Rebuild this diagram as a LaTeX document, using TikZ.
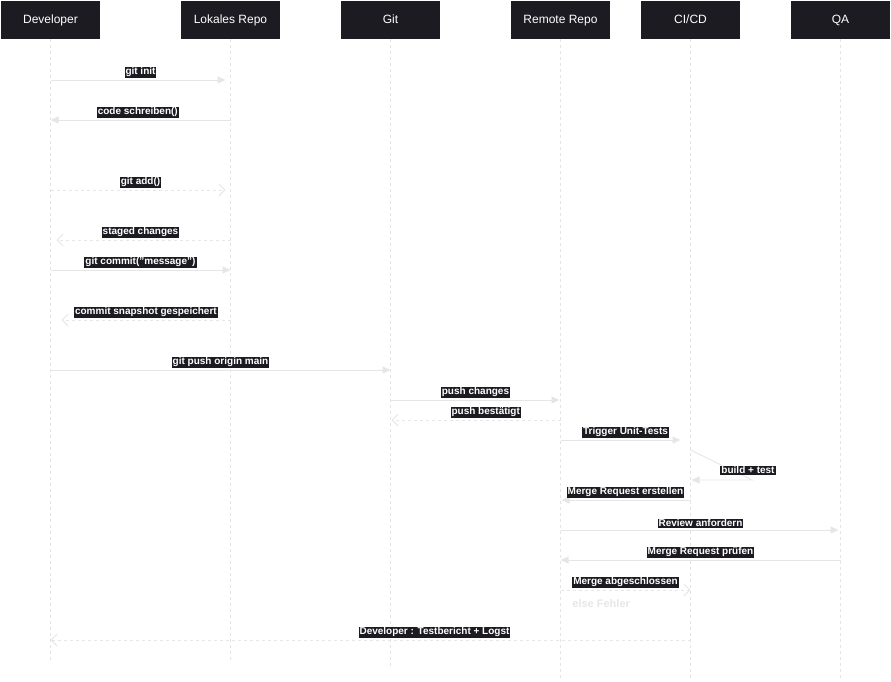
\documentclass[tikz,border=0pt]{standalone}
\usepackage{fontspec}
\setmainfont{Liberation Sans}
\usetikzlibrary{arrows.meta}
\definecolor{actorbg}{HTML}{1C1B22}
\definecolor{msgline}{HTML}{E6E6E6}
\definecolor{lifeline}{HTML}{E4E4E4}

\begin{document}
\begin{tikzpicture}[x=1pt, y=-1pt, >={Triangle[length=8pt,width=7pt]}, shorten >=3pt, line width=0.9pt,
  actor/.style={fill=actorbg, text=white, minimum width=99pt, minimum height=38pt, inner sep=0pt, text height=9pt, text depth=2.5pt, font=\fontsize{12}{14}\selectfont},
  life/.style={draw=lifeline, line width=0.7pt, dash pattern=on 3pt off 3pt, shorten >=0pt},
  call/.style={draw=msgline, ->},
  reply/.style={draw=msgline, dash pattern=on 3pt off 3pt, -{Straight Barb[length=6pt,width=12pt]}},
  lbl/.style={fill=actorbg, text=white, inner sep=1pt, above=1.5pt, font=\bfseries\fontsize{10}{11}\selectfont}]
 \useasboundingbox (0,0) rectangle (891,681);

 \node [actor] (dev) at (50.5,20) {Developer};
 \node [actor] (repo) at (230.5,20) {Lokales Repo};
 \node [actor] (git) at (390.5,20) {Git};
 \node [actor] (remote) at (560.5,20) {Remote Repo};
 \node [actor] (ci) at (690.5,20) {CI/CD};
 \node [actor] (qa) at (840.5,20) {QA};

 \coordinate (devend) at (50.5,661);
 \coordinate (repoend) at (230.5,661);
 \coordinate (gitend) at (390.5,668);
 \coordinate (remoteend) at (560.5,681);
 \coordinate (ciend) at (690.5,681);
 \coordinate (qaend) at (840.5,681);

 \path (dev) edge [life] (devend);
 \path (repo) edge [life] (repoend);
 \path (git) edge [life] (gitend);
 \path (remote) edge [life] (remoteend);
 \path (ci) edge [life] (ciend);
 \path (qa) edge [life] (qaend);

 % message rows
 \coordinate (m1) at (0,80);
 \coordinate (m2) at (0,120);
 \coordinate (m3) at (0,190);
 \coordinate (m4) at (0,240);
 \coordinate (m5) at (0,270);
 \coordinate (m6) at (0,320);
 \coordinate (m7) at (0,370);
 \coordinate (m8) at (0,400);
 \coordinate (m9) at (0,420);
 \coordinate (m10) at (0,440);
 \coordinate (m11) at (0,450);
 \coordinate (m12) at (0,480);
 \coordinate (m13) at (0,500);
 \coordinate (m14) at (0,530);
 \coordinate (m15) at (0,560);
 \coordinate (m16) at (0,590);
 \coordinate (m17) at (0,640);

 \path (dev |- m1) edge [call, shorten >=5pt] node [lbl] {git init} (repo |- m1);
 \path (repo |- m2) edge [call, shorten >=0pt] node [lbl, pos=0.515] {code schreiben()} (dev |- m2);
 \path (dev |- m3) edge [reply, shorten >=5pt] node [lbl] {git add()} (repo |- m3);
 \path (repo |- m4) edge [reply, shorten >=6pt] node [lbl] {staged changes} (dev |- m4);
 \path (dev |- m5) edge [call, shorten >=0pt] node [lbl] {git commit("message")} (repo |- m5);
 \path (repo |- m6) edge [reply, shorten >=11pt] node [lbl, pos=0.47] {commit snapshot gespeichert} (dev |- m6);
 \path (dev |- m7) edge [call, shorten >=0pt] node [lbl] {git push origin main} (git |- m7);

 \path (git |- m8) edge [call, shorten >=1pt] node [lbl] {push changes} (remote |- m8);
 \path (remote |- m9) edge [reply, shorten >=1pt] node [lbl, pos=0.44] {push bestätigt} (git |- m9);
 \path (remote |- m10) edge [call, shorten >=10pt] node [lbl] {Trigger Unit-Tests} (ci |- m10);

 \coordinate (turn) at (752,480);
 \draw [call, shorten >=1pt] (ci |- m11) -- (turn) -- (ci |- m12);
 \node [lbl, above=0pt] (build) at (748,477) {build + test};

 \path (ci |- m13) edge [call, shorten >=1pt] node [lbl] {Merge Request erstellen} (remote |- m13);
 \path (remote |- m14) edge [call, shorten >=2pt] node [lbl] {Review anfordern} (qa |- m14);
 \path (qa |- m15) edge [call, shorten >=0pt] node [lbl] {Merge Request prüfen} (remote |- m15);
 \path (remote |- m16) edge [reply, shorten >=0pt] node [lbl] {Merge abgeschlossen} (ci |- m16);
 \node [anchor=west, text=msgline, font=\bfseries\fontsize{11}{13}\selectfont, inner sep=0pt] (fehler) at (572,604) {else Fehler};
 \path (ci |- m17) edge [reply, shorten >=0pt] node [lbl, pos=0.4] {Developer : Testbericht + Logst} (dev |- m17);
\end{tikzpicture}
\end{document}
